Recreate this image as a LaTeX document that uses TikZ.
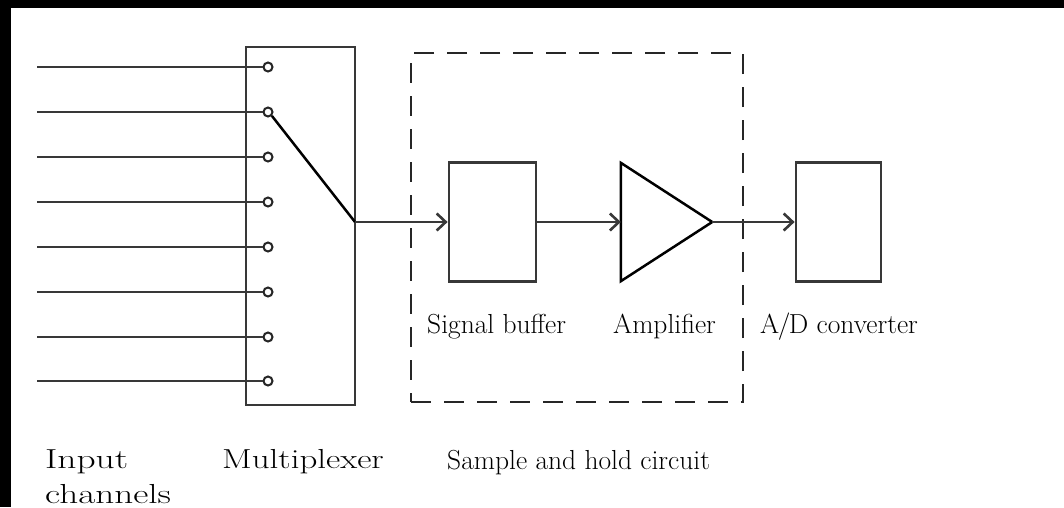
\documentclass[tikz,border=0pt]{standalone}
\usetikzlibrary{arrows.meta}
\begin{document}
\begin{tikzpicture}[x=1pt,y=-1pt,
  wire/.style={draw=black!78, line width=2.8pt},
  sig/.style={wire, -{Straight Barb[length=9pt,width=17pt,line width=2.6pt]}},
  blockbox/.style={draw=black!78, line width=2.8pt, rectangle, inner sep=0pt},
  pin/.style={circle, draw=black!85, fill=white, line width=2pt, minimum size=9pt, inner sep=0pt},
  lbl/.style={inner sep=0pt, anchor=base west, font=\fontsize{27.5}{33}\selectfont}]
\useasboundingbox (0,0) rectangle (1064,507);
\fill[white] (0,0) rectangle (1064,507);
\fill[black] (0,0) rectangle (1064,8);
\fill[black] (0,0) rectangle (11,507);
% multiplexer
\node[blockbox, minimum width=109pt, minimum height=358pt] (mux) at (300.5,226) {};
\foreach \k/\y in {1/67,2/112,3/157,4/202,5/247,6/292,7/337,8/381} {
  \coordinate (i\k) at (37,\y);
  \node[pin] (c\k) at (268,\y) {};
  \draw[wire] (i\k) -- (c\k.west);
}
\coordinate (sw) at (355,222);
\draw[draw=black, line width=2.5pt] (c2.south east) -- (sw);
% sample and hold
\node[draw=black!85, line width=2.2pt, dash pattern=on 20pt off 13pt, rectangle, minimum width=332pt, minimum height=349pt] (sh) at (577,227.5) {};
\node[blockbox, minimum width=87pt, minimum height=119pt] (buf) at (492.5,222) {};
\node[inner sep=0pt, minimum width=91pt, minimum height=118pt] (amp) at (666.5,222) {};
\draw[draw=black, line width=2.5pt, line join=miter] (amp.north west) -- (amp.east) -- (amp.south west) -- cycle;
\node[blockbox, minimum width=85pt, minimum height=119pt] (adc) at (838.5,222) {};
\draw[sig] (sw) -- (buf.west);
\draw[sig] (buf.east) -- (amp.west);
\draw[sig] (amp.east) -- (adc.west);
% labels
\node[lbl] (lbuf) at (427,333) {Signal buffer};
\node[lbl] (lamp) at (613,333) {Amplifier};
\node[lbl] (ladc) at (760,333) {A\kern-1.5pt/\kern-1.5pt D converter};
\node[lbl] (lsh) at (447,469) {Sample and hold circuit};
\node[lbl] (lmux) at (222,468) {\scalebox{1.27}[1]{Multiplexer}};
\node[lbl] (lin1) at (45,468) {\scalebox{1.36}[1]{Input}};
\node[lbl] (lin2) at (45,503) {\scalebox{1.35}[1]{channels}};
\end{tikzpicture}
\end{document}
